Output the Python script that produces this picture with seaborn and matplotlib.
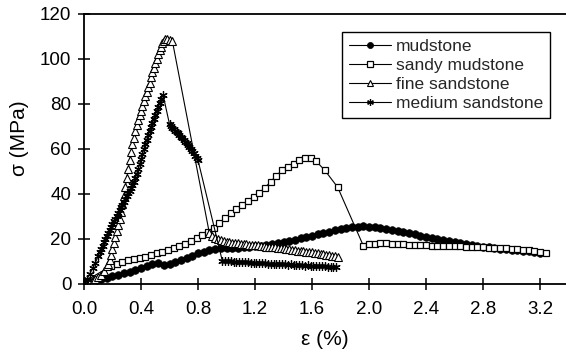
import numpy as np
import pandas as pd
import matplotlib
matplotlib.use('Agg')
import matplotlib.pyplot as plt
import seaborn as sns

# stress-strain curves, strain in %, stress in MPa
mud_x = [0.00, 0.04, 0.08, 0.12, 0.16, 0.20, 0.24, 0.28, 0.32, 0.36, 0.40, 0.44, 0.48, 0.52,
         0.56, 0.60, 0.64, 0.68, 0.72, 0.76, 0.80, 0.84, 0.88, 0.92, 0.96, 1.00, 1.04, 1.08,
         1.12, 1.16, 1.20, 1.24, 1.28, 1.32, 1.36, 1.40, 1.44, 1.48, 1.52, 1.56, 1.60, 1.64,
         1.68, 1.72, 1.76, 1.80, 1.84, 1.88, 1.92, 1.96, 2.00, 2.04, 2.08, 2.12, 2.16, 2.20,
         2.24, 2.28, 2.32, 2.36, 2.40, 2.44, 2.48, 2.52, 2.56, 2.60, 2.64, 2.68, 2.72, 2.76,
         2.80, 2.84, 2.88, 2.92, 2.96, 3.00, 3.04, 3.08, 3.12, 3.16, 3.20]
mud_y = [0.5, 1.0, 1.6, 2.2, 2.8, 3.4, 4.0, 4.7, 5.4, 6.2, 7.0, 7.8, 8.7, 9.2,
         8.4, 9.0, 9.8, 10.6, 11.6, 12.6, 13.6, 14.4, 15.0, 15.5, 15.8, 16.0, 16.1, 16.2,
         16.3, 16.5, 16.7, 17.0, 17.3, 17.7, 18.1, 18.6, 19.1, 19.7, 20.3, 20.9, 21.5, 22.1,
         22.7, 23.3, 23.8, 24.3, 24.8, 25.2, 25.5, 25.6, 25.5, 25.2, 24.8, 24.4, 24.0, 23.5,
         23.0, 22.5, 22.0, 21.5, 21.0, 20.5, 20.0, 19.5, 19.0, 18.6, 18.2, 17.8, 17.4, 17.0,
         16.6, 16.3, 16.0, 15.7, 15.4, 15.2, 15.0, 14.8, 14.5, 14.2, 13.9]

sandy_x = [0.00, 0.19, 0.23, 0.27, 0.31, 0.35, 0.39, 0.43, 0.47, 0.51, 0.55, 0.59, 0.63, 0.67,
           0.71, 0.75, 0.79, 0.83, 0.87, 0.91, 0.95, 0.99, 1.03, 1.07, 1.11, 1.15, 1.19, 1.23,
           1.27, 1.31, 1.35, 1.39, 1.43, 1.47, 1.51, 1.55, 1.59, 1.63, 1.69, 1.78, 1.96, 2.00,
           2.04, 2.08, 2.12, 2.16, 2.20, 2.24, 2.28, 2.32, 2.36, 2.40, 2.44, 2.48, 2.52, 2.56,
           2.60, 2.64, 2.68, 2.72, 2.76, 2.80, 2.84, 2.88, 2.92, 2.96, 3.00, 3.04, 3.08, 3.12,
           3.16, 3.20, 3.24]
sandy_y = [1.0, 8.0, 9.0, 9.8, 10.5, 11.0, 11.6, 12.2, 12.9, 13.6, 14.3, 15.1, 15.9, 16.8,
           17.8, 19.0, 20.3, 21.8, 23.3, 25.0, 27.0, 29.3, 31.5, 33.3, 35.0, 37.0, 38.8, 40.5,
           42.8, 45.5, 48.2, 50.5, 52.2, 53.5, 55.2, 56.2, 55.8, 54.5, 50.5, 43.0, 17.0, 17.6,
           17.8, 18.0, 18.0, 17.9, 17.9, 17.8, 17.5, 17.4, 17.4, 17.3, 17.1, 17.0, 17.0, 16.9,
           16.8, 16.7, 16.6, 16.5, 16.5, 16.3, 16.2, 16.1, 16.0, 15.8, 15.6, 15.4, 15.2, 15.0,
           14.7, 14.2, 13.6]

fine_x = [0.00, 0.02, 0.04, 0.06, 0.08, 0.10, 0.12, 0.14, 0.16, 0.17, 0.18, 0.19, 0.20, 0.21,
          0.22, 0.23, 0.24, 0.25, 0.26, 0.27, 0.28, 0.29, 0.30, 0.31, 0.32, 0.33, 0.34, 0.35,
          0.36, 0.37, 0.38, 0.39, 0.40, 0.41, 0.42, 0.43, 0.44, 0.45, 0.46, 0.47, 0.48, 0.49,
          0.50, 0.51, 0.52, 0.53, 0.54, 0.55, 0.56, 0.57, 0.58, 0.60, 0.62,
          0.88, 0.90, 0.92, 0.94, 0.96, 0.98, 1.00, 1.02, 1.04, 1.06, 1.08, 1.10, 1.12, 1.14,
          1.16, 1.18, 1.20, 1.22, 1.24, 1.26, 1.28, 1.30, 1.32, 1.34, 1.36, 1.38, 1.40, 1.42,
          1.44, 1.46, 1.48, 1.50, 1.52, 1.54, 1.56, 1.58, 1.60, 1.62, 1.64, 1.66, 1.68, 1.70,
          1.72, 1.74, 1.76, 1.78]
fine_y = [0.0, 0.3, 0.7, 1.2, 2.0, 3.0, 4.2, 5.8, 7.8, 9.0, 10.5, 13.0, 15.5, 18.2,
          21.0, 23.5, 26.0, 29.0, 32.0, 35.5, 39.0, 43.0, 47.0, 51.0, 55.0, 58.5, 62.0, 65.0,
          68.0, 70.5, 73.0, 75.0, 77.0, 79.3, 81.5, 83.5, 85.5, 87.5, 89.5, 91.8, 94.0, 96.0,
          98.0, 100.0, 102.0, 103.8, 105.5, 107.0, 108.0, 108.8, 109.0, 108.5, 108.0,
          22.5, 21.2, 20.4, 19.8, 19.4, 19.1, 18.8, 18.6, 18.4, 18.2, 18.0, 17.9, 17.7, 17.6,
          17.5, 17.4, 17.3, 17.2, 17.0, 16.8, 16.6, 16.6, 16.5, 16.4, 16.2, 16.0, 15.8, 15.6,
          15.4, 15.2, 15.0, 14.8, 14.6, 14.5, 14.3, 14.2, 14.0, 13.8, 13.6, 13.4, 13.2, 13.0,
          12.8, 12.6, 12.4, 12.2]

med_x = [0.00, 0.02, 0.04, 0.06, 0.08, 0.10, 0.11, 0.12, 0.13, 0.14, 0.15, 0.16, 0.17, 0.18,
         0.19, 0.20, 0.21, 0.22, 0.23, 0.24, 0.25, 0.26, 0.27, 0.28, 0.29, 0.30, 0.31, 0.32,
         0.33, 0.34, 0.35, 0.36, 0.37, 0.38, 0.39, 0.40, 0.41, 0.42, 0.43, 0.44, 0.45, 0.46,
         0.47, 0.48, 0.49, 0.50, 0.51, 0.52, 0.53, 0.54, 0.555,
         0.60, 0.61, 0.62, 0.63, 0.64, 0.65, 0.66, 0.67, 0.68, 0.69, 0.70, 0.71, 0.72, 0.73,
         0.74, 0.75, 0.76, 0.77, 0.78, 0.79, 0.80,
         0.97, 0.99, 1.01, 1.03, 1.05, 1.07, 1.09, 1.11, 1.13, 1.15, 1.17, 1.19, 1.21, 1.23,
         1.25, 1.27, 1.29, 1.31, 1.33, 1.35, 1.37, 1.39, 1.41, 1.43, 1.45, 1.47, 1.49, 1.51,
         1.53, 1.55, 1.57, 1.59, 1.61, 1.63, 1.65, 1.67, 1.69, 1.71, 1.73, 1.75, 1.77]
med_y = [0.0, 2.0, 4.5, 7.0, 9.5, 12.5, 14.0, 15.5, 17.0, 18.5, 20.0, 21.5, 22.8, 24.0,
         25.3, 26.5, 27.8, 29.0, 30.3, 31.5, 32.8, 34.0, 35.3, 36.5, 37.8, 39.0, 40.3, 41.5,
         42.8, 44.0, 45.5, 47.0, 49.0, 51.0, 53.3, 55.5, 57.8, 60.0, 62.0, 64.0, 66.0, 68.0,
         69.8, 71.5, 73.3, 75.0, 76.8, 78.5, 80.3, 82.0, 84.0,
         71.0, 70.2, 69.5, 68.7, 68.0, 67.5, 67.0, 66.2, 65.5, 64.8, 64.0, 63.2, 62.5, 61.8,
         61.0, 60.0, 59.0, 58.0, 57.0, 56.0, 55.0,
         10.4, 10.2, 10.0, 10.1, 9.9, 9.8, 9.9, 9.7, 9.6, 9.7, 9.5, 9.4, 9.5, 9.3,
         9.2, 9.3, 9.1, 9.0, 9.1, 8.9, 8.8, 8.9, 8.7, 8.6, 8.7, 8.5, 8.4, 8.5,
         8.3, 8.2, 8.3, 8.1, 8.0, 8.1, 7.9, 7.8, 7.9, 7.7, 7.6, 7.7, 7.5]

x_ticks = [0.0, 0.4, 0.8, 1.2, 1.6, 2.0, 2.4, 2.8, 3.2]
y_ticks = [0, 20, 40, 60, 80, 100, 120]

sns.set_style('ticks')
plt.rcParams['font.family'] = ['Liberation Sans', 'DejaVu Sans']

fig = plt.figure(figsize=(5.66, 3.55), dpi=100)
ax = fig.add_axes([0.1484, 0.2, 0.8516, 0.7606])

lw = 0.8
sns.lineplot(x=mud_x, y=mud_y, ax=ax, color='black', lw=lw, marker='o', ms=5.5,
             mfc='black', mec='black', mew=0.5, sort=False, estimator=None, label='mudstone')
sns.lineplot(x=sandy_x, y=sandy_y, ax=ax, color='black', lw=lw, marker='s', ms=5,
             mfc='white', mec='black', mew=0.9, sort=False, estimator=None, label='sandy mudstone')
sns.lineplot(x=fine_x, y=fine_y, ax=ax, color='black', lw=lw, marker='^', ms=5.5,
             mfc='white', mec='black', mew=0.8, sort=False, estimator=None, label='fine sandstone')
sns.lineplot(x=med_x, y=med_y, ax=ax, color='black', lw=lw, marker=(6, 2, 0), ms=6,
             mec='black', mew=0.9, sort=False, estimator=None, label='medium sandstone')

ax.set_xlim(0, 3.382)
ax.set_ylim(0, 120)
ax.set_xticks(x_ticks)
ax.set_xticklabels(['%.1f' % t for t in x_ticks])
ax.set_yticks(y_ticks)
ax.tick_params(direction='inout', length=9, width=1.1, labelsize=13.5, color='black',
               labelcolor='black')
ax.tick_params(axis='x', pad=8)
ax.tick_params(axis='y', pad=4.5)
for s in ['left', 'bottom', 'top']:
    ax.spines[s].set_color('black')
    ax.spines[s].set_linewidth(1.3)
ax.spines['right'].set_visible(False)

ax.set_xlabel('ε (%)', fontsize=15, color='black', va='center')
ax.set_ylabel('σ (MPa)', fontsize=15, color='black', va='center')
ax.xaxis.set_label_coords(0.5, -0.205)
ax.yaxis.set_label_coords(-0.134, 0.54)

leg = ax.legend(loc='upper right', bbox_to_anchor=(550 / 566, 1 - 31.7 / 355),
                bbox_transform=fig.transFigure, borderaxespad=0, fontsize=12.5,
                frameon=True, fancybox=False, framealpha=1, edgecolor='black',
                handlelength=2.4, handletextpad=0.3, labelspacing=0.22, borderpad=0.4,
                markerscale=0.8)
leg.get_frame().set_linewidth(1.0)

fig.savefig('out.png', dpi=100)
